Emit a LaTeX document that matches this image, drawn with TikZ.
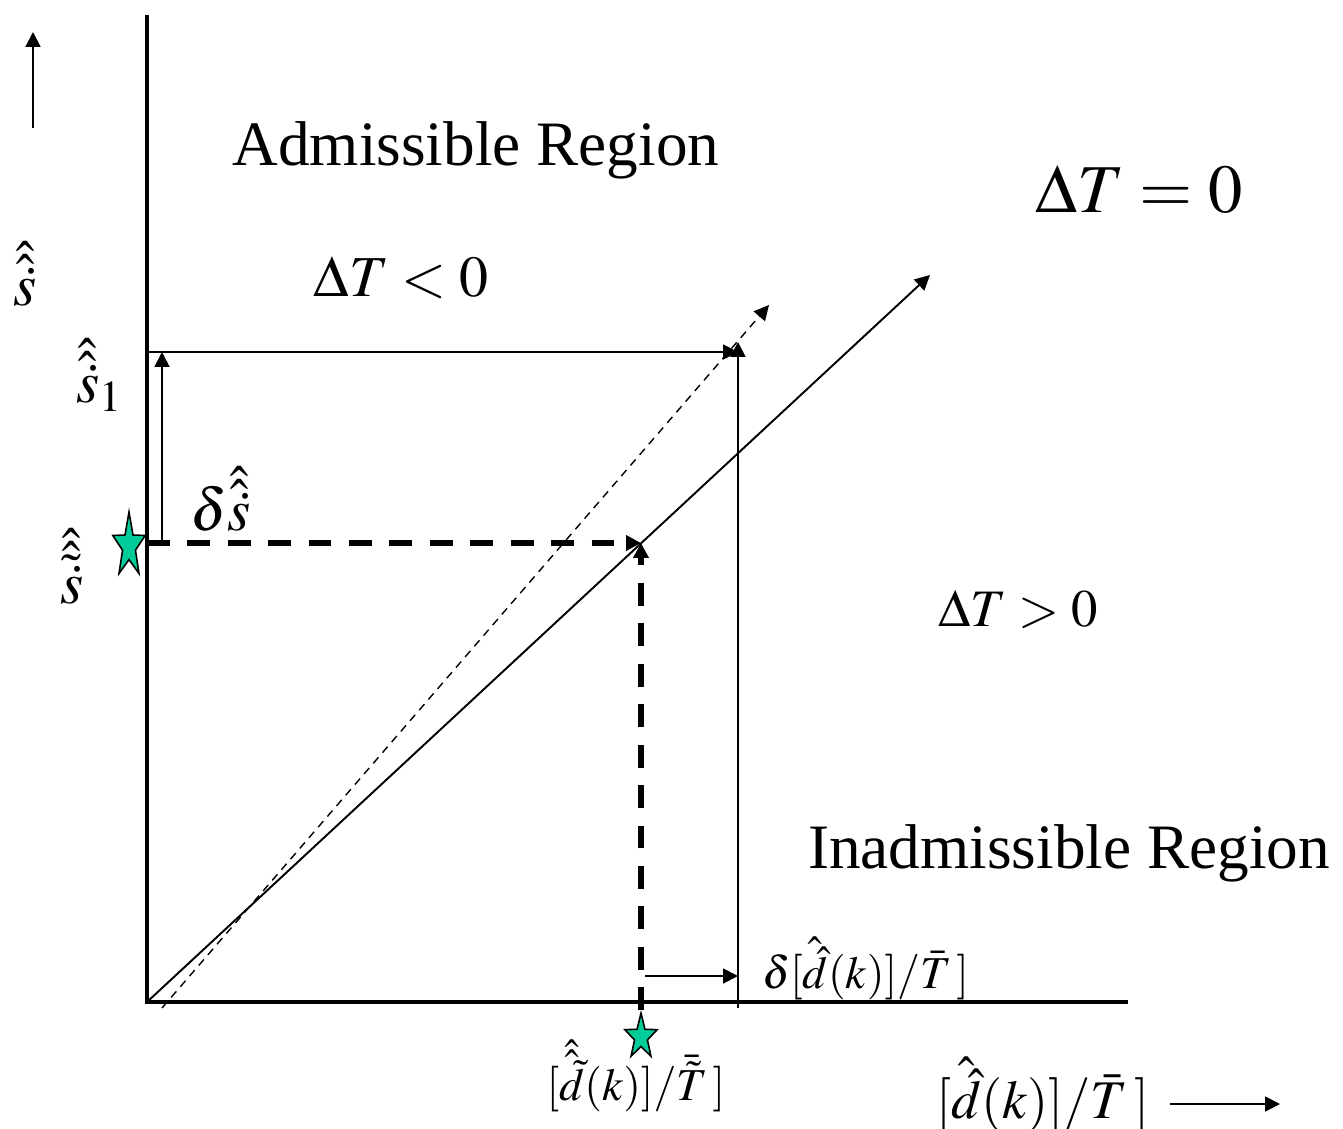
\documentclass[tikz,border=0pt]{standalone}
\usepackage{mathptmx}
\usepackage{fontspec}
\setmainfont{Liberation Serif}
\usepackage{xcolor}
\usetikzlibrary{shapes.geometric, arrows.meta, positioning, calc}
\definecolor{starfill}{RGB}{0,204,153}

\begin{document}
\begin{tikzpicture}[
  x=0.02cm, y=-0.02cm,
  every node/.style={inner sep=0pt, outer sep=0pt},
  axis/.style={line width=2.4pt},
  guide/.style={line width=1.1pt},
  arrow/.style={-{Triangle[length=8.5pt,width=8.5pt]}},
  thickdash/.style={line width=3pt, dash pattern=on 13pt off 10pt},
  thindash/.style={line width=0.8pt, dash pattern=on 4.5pt off 3.5pt},
  goalstar/.style={star, star points=5, star point ratio=2.5, draw,
                   line width=0.9pt, fill=starfill, minimum size=0.68cm,
                   transform shape},
  region/.style={font=\fontsize{36}{40}\selectfont},
  axlabel/.style={font=\fontsize{34}{38}\selectfont},
  small/.style={font=\fontsize{26}{30}\selectfont}
]
  \useasboundingbox (0,0) rectangle (1343,1129);
  % axes
  \coordinate (O)    at (147,1002);
  \coordinate (ytop) at (147,15);
  \coordinate (xend) at (1128,1002);
  \draw[axis] (ytop) -- (O) -- (xend);
  % points on the axes and on the lines
  \coordinate (sstar) at (147,543);
  \coordinate (s1)    at (147,352);
  \coordinate (A)     at (641,543);
  \coordinate (B)     at (738,342);
  \coordinate (dstar) at (641,1010);
  \coordinate (dtick) at (738,1008);
  % the two lines
  \coordinate (solidend)  at (930,275);
  \coordinate (dashstart) at (162,1008);
  \coordinate (dashend)   at (769,305);
  \draw[guide, arrow] (O) -- (solidend);
  \draw[thindash, arrow] (dashstart) -- (dashend);
  % dashed operating point
  \draw[thickdash, arrow] (sstar) -- (A);
  \draw[thickdash, arrow] (dstar) -- (A);
  % shifted point
  \draw[guide, arrow] (s1) -- (s1 -| B);
  \draw[guide, arrow] (dtick) -- (B);
  \draw[guide, arrow] (162,543) coordinate (dslo) -- (dslo |- s1);
  \coordinate (ddlo) at (645,976);
  \draw[guide, arrow] (ddlo) -- (ddlo -| B);
  % direction arrows
  \coordinate (yarrlo) at (33,128);
  \coordinate (yarrhi) at (33,32);
  \draw[guide, arrow] (yarrlo) -- (yarrhi);
  \coordinate (xarrlo) at (1170,1104);
  \coordinate (xarrhi) at (1280,1104);
  \draw[guide, arrow] (xarrlo) -- (xarrhi);
  % stars
  \begin{scope}[shift={(129,546)}, yscale=2]
    \node[goalstar] (starS) at (0,0) {};
  \end{scope}
  \begin{scope}[shift={(641,1037)}, yscale=1.4]
    \node[goalstar] (starD) at (0,0) {};
  \end{scope}
  % texts
  \node[region] (adm) at (476,150) {Admissible Region};
  \node[region] (inadm) at (1069,853) {Inadmissible Region};
  \node[font=\fontsize{39}{43}\selectfont] (dt0) at (1139,190) {$\Delta T = 0$};
  \node[font=\fontsize{33}{37}\selectfont] (dtneg) at (401,278) {$\Delta T < 0$};
  \node[font=\fontsize{30}{34}\selectfont] (dtpos) at (1018,610) {$\Delta T > 0$};
  \node[axlabel, anchor=base] (ylab) at (25,305) {$\hat{\hat{\dot{s}}}$};
  \node[axlabel, anchor=base west] (s1lab) at (76,402) {$\hat{\hat{\dot{s}}}_1$};
  \node[axlabel, anchor=base west] (sstarlab) at (60,603) {$\hat{\hat{\tilde{\dot{s}}}}$};
  \node[axlabel, anchor=base] (dslab) at (221,530) {$\delta\hat{\hat{\dot{s}}}$};
  \node[small, anchor=base west] (ddlab) at (762,988)
        {$\delta[\hat{\hat{d}}(k)]/\bar{T}\,]$};
  \node[font=\fontsize{26}{30}\selectfont, anchor=base] (dstarlab) at (636,1100)
        {$[\hat{\hat{\tilde{d}}}(k)]/\bar{\tilde{T}}\,]$};
  \node[font=\fontsize{31}{35}\selectfont, anchor=base west] (xlab) at (936,1118)
        {$[\hat{\hat{d}}(k)]/\bar{T}\,]$};
\end{tikzpicture}
\end{document}
